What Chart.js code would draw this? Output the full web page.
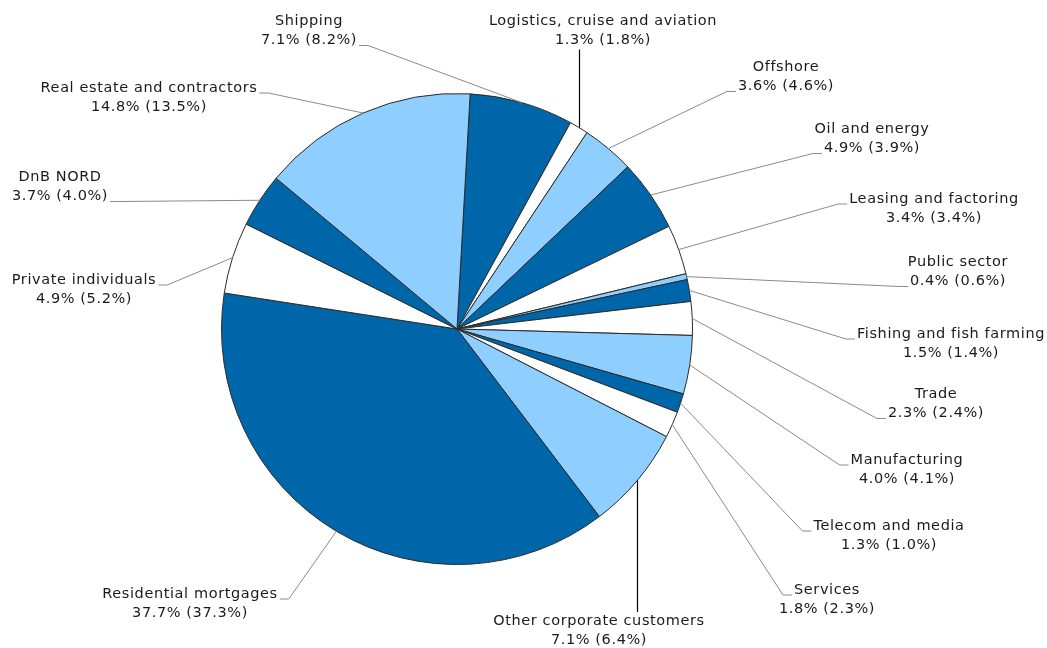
<!DOCTYPE html>
<html>
<head>
<meta charset="utf-8">
<script src="https://cdn.jsdelivr.net/npm/chart.js@4.4.0/dist/chart.umd.min.js"></script>
<style>
html,body{margin:0;padding:0;background:#fff;}
#wrap{width:1047px;height:648px;position:relative;}
</style>
</head>
<body>
<div id="wrap"><canvas id="c"></canvas></div>
<script>
// Loans by sector, share of total (prior year in brackets)
var sectors=['Shipping','Logistics, cruise and aviation','Offshore','Oil and energy','Leasing and factoring','Public sector','Fishing and fish farming','Trade','Manufacturing','Telecom and media','Services','Other corporate customers','Residential mortgages','Private individuals','DnB NORD','Real estate and contractors'];
var current=[7.1,1.3,3.6,4.9,3.4,0.4,1.5,2.3,4.0,1.3,1.8,7.1,37.7,4.9,3.7,14.8];
var previous=[8.2,1.8,4.6,3.9,3.4,0.6,1.4,2.4,4.1,1.0,2.3,6.4,37.3,5.2,4.0,13.5];

var DARK='#0066aa',LIGHT='#8fcfff',WHITE='#ffffff';
var colors=[DARK,WHITE,LIGHT,DARK,WHITE,LIGHT,DARK,WHITE,LIGHT,DARK,WHITE,LIGHT,DARK,WHITE,DARK,LIGHT];

// label placement: text centre x, first line y, side the leader comes from, line it attaches to
// L = leader leaves right edge, R = leaves left edge, T = vertical from below text, B = vertical from above
var labelLayout=[
    [309,21,'L',1],[603,21,'T',1],[786,67,'R',1],[872,129,'R',1],
    [934,199,'R',0],[958,262,'R',1],[951,334,'R',0],[936,394,'R',1],
    [907,460,'R',0],[889,526,'R',0],[827,590,'R',0],[599,621,'B',0],
    [190,594,'L',0],[84,280,'L',0],[60,177,'L',1],[149,88,'L',0]
];
var LH=19.5;

function fm(v){return v.toFixed(1)+'%';}

var leaders={
    id:'leaders',
    afterDatasetsDraw:function(chart){
        var ctx=chart.ctx;
        var arcs=chart.getDatasetMeta(0).data;
        ctx.save();
        ctx.font='14.5px "DejaVu Sans", Verdana, sans-serif';
        ctx.letterSpacing='0.6px';
        ctx.textBaseline='middle';
        ctx.textAlign='center';
        for(var i=0;i<arcs.length;i++){
            var p=arcs[i].getProps(['x','y','startAngle','endAngle','outerRadius'],true);
            var mid=(p.startAngle+p.endAngle)/2;
            var ax=p.x+Math.cos(mid)*p.outerRadius,ay=p.y+Math.sin(mid)*p.outerRadius;
            var lines=[sectors[i],fm(current[i])+' ('+fm(previous[i])+')'];
            var L=labelLayout[i],cx=L[0],y1=L[1],side=L[2],at=L[3];

            ctx.beginPath();
            if(side==='T'||side==='B'){
                ctx.strokeStyle='#000';ctx.lineWidth=1.2;
                var ey=side==='T'?y1+LH+9:y1-9;
                ctx.moveTo(Math.round(ax)+0.5,ay);
                ctx.lineTo(Math.round(ax)+0.5,ey);
            }else{
                ctx.strokeStyle='#8a8a8a';ctx.lineWidth=1;
                var w=ctx.measureText(lines[at]).width;
                var ly=y1+at*LH+5;
                var ex=side==='L'?cx+w/2+2:cx-w/2-2;
                var elbow=side==='L'?ex+9:ex-9;
                ctx.moveTo(ax,ay);
                ctx.lineTo(elbow,ly);
                ctx.lineTo(ex,ly);
            }
            ctx.stroke();

            ctx.fillStyle='#1a1a1a';
            ctx.fillText(lines[0],cx,y1);
            ctx.fillText(lines[1],cx,y1+LH);
        }
        ctx.restore();
    }
};

new Chart(document.getElementById('c'),{
    type:'pie',
    data:{labels:sectors,datasets:[{data:current,backgroundColor:colors,borderColor:'#2a2a2a',borderWidth:1,hoverOffset:0,offset:0}]},
    options:{
        responsive:true,maintainAspectRatio:false,animation:false,
        rotation:3.2,
        layout:{padding:{left:221,right:354,top:93,bottom:83}},
        plugins:{legend:{display:false},tooltip:{enabled:false}}
    },
    plugins:[leaders]
});
</script>
</body>
</html>
